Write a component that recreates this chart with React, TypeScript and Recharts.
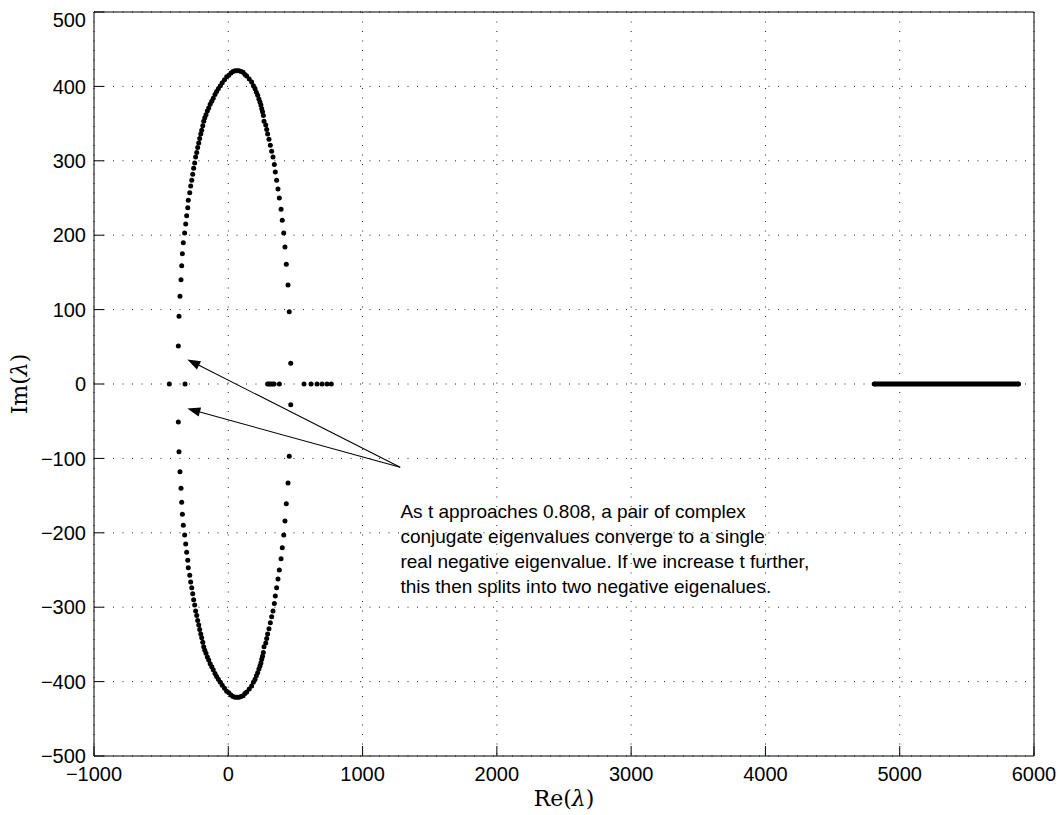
import { ScatterChart, Scatter, XAxis, YAxis, CartesianGrid, ReferenceLine, ReferenceDot, Label } from 'recharts';

const X_TICKS = [-1000, 0, 1000, 2000, 3000, 4000, 5000, 6000];
const Y_TICKS = [-500, -400, -300, -200, -100, 0, 100, 200, 300, 400, 500];

// upper half of the eigenvalue loop, left branch -> top -> right branch
const upperRe = [
  -372, -367, -360, -352, -347, -342, -335, -325, -317, -310, -302, -298, -287, -280,
  -272, -265, -258, -250, -243, -235, -228, -220, -213, -205, -198, -190, -183,
  -175, -166, -156, -146, -135, -123, -112, -99, -87, -74, -59, -45, -28, -12, 4, 20,
  35, 50, 65, 80, 95, 110, 124, 137, 156, 174, 187, 199, 209, 219, 228, 236, 243, 249,
  255, 261,
  266, 279, 286, 293, 303, 313, 323, 333, 343, 350, 360, 370, 380, 393, 402, 413, 422,
  432, 445, 454, 465,
];
const upperIm = [
  51, 91, 118, 140, 159, 175, 190, 203, 215, 226, 237, 247, 257, 266,
  274, 282, 290, 297, 305, 311, 318, 324, 330, 336, 341, 347, 353,
  358, 362, 367, 371, 376, 380, 384, 389, 393, 397, 401, 405, 409, 413, 415, 418,
  420, 421, 421, 421, 420, 419, 416, 414, 410, 406, 401, 397, 392, 388, 383, 379, 375, 370,
  366, 361,
  353, 348, 342, 336, 329, 321, 313, 305, 295, 285, 274, 262, 250, 235, 220, 203, 184,
  161, 133, 97, 28,
];
// conjugate half
const lowerIm = [
  -51, -91, -118, -140, -159, -175, -190, -203, -215, -226, -237, -247, -257, -266,
  -274, -282, -290, -297, -305, -311, -318, -324, -330, -336, -341, -347, -353,
  -358, -362, -367, -371, -376, -380, -384, -389, -393, -397, -401, -405, -409, -413, -415, -418,
  -420, -421, -421, -421, -420, -419, -416, -414, -410, -406, -401, -397, -392, -388, -383, -379, -375, -370,
  -366, -361,
  -353, -348, -342, -336, -329, -321, -313, -305, -295, -285, -274, -262, -250, -235, -220, -203, -184,
  -161, -133, -97, -28,
];
// real eigenvalues near the origin
const realRe = [-439, -322, 293, 305, 317, 329, 341, 380, 564, 616, 661, 698, 735, 767];
// the dense run of real eigenvalues on the right
const bandRe = [4810, 5885];

const arrowTail = { re: 1280, im: -112 };
const arrowTips = [
  { re: -305, im: 33 },
  { re: -305, im: -33 },
];
const noteAt = { re: 1282, im: -180 };
const noteLines = [
  'As t approaches 0.808, a pair of complex',
  'conjugate eigenvalues converge to a single',
  'real negative eigenvalue. If we increase t further,',
  'this then splits into two negative eigenalues.',
];

const upperData = upperRe.map((re, i) => ({ re, im: upperIm[i] }));
const lowerData = upperRe.map((re, i) => ({ re, im: lowerIm[i] }));
const realData = realRe.map((re) => ({ re, im: 0 }));
const bandData = bandRe.map((re) => ({ re, im: 0 }));

const Dot = (p: any) => <circle cx={p.cx} cy={p.cy} r={2.5} fill="#000" />;

const Arrow = (p: any) => {
  const { x1, y1, x2, y2 } = p;
  const dx = x2 - x1;
  const dy = y2 - y1;
  const len = Math.hypot(dx, dy) || 1;
  const ux = dx / len;
  const uy = dy / len;
  const L = 13;
  const W = 4.6;
  const bx = x2 - ux * L;
  const by = y2 - uy * L;
  const pts = `${x2},${y2} ${bx - uy * W},${by + ux * W} ${bx + uy * W},${by - ux * W}`;
  return (
    <g>
      <line x1={x1} y1={y1} x2={bx} y2={by} stroke="#000" strokeWidth={1.1} />
      <polygon points={pts} fill="#000" />
    </g>
  );
};

const Note = (p: any) => (
  <text x={p.cx} y={p.cy} fontFamily="Liberation Sans, Arial, sans-serif" fontSize={19} fill="#000">
    {noteLines.map((t, i) => (
      <tspan key={i} x={p.cx} dy={i === 0 ? 0 : 25}>
        {t}
      </tspan>
    ))}
  </text>
);

const fmt = (v: number) => String(v).replace('-', '\u2212');
const tickStyle = { fill: '#000', fontSize: 20, fontFamily: 'Liberation Sans, Arial, sans-serif' };
const serif = 'DejaVu Serif, Liberation Serif, serif';

export default function App() {
  return (
    <ScatterChart width={1050} height={807} margin={{ top: 3, right: 23, left: 0, bottom: 7 }}>
      <CartesianGrid stroke="#222" strokeDasharray="1 8.5" />
      <XAxis
        dataKey="re"
        type="number"
        domain={[-1000, 6000]}
        ticks={X_TICKS}
        height={52}
        stroke="#000"
        tickSize={-10}
        tickMargin={21}
        tick={tickStyle}
        tickFormatter={fmt}
      >
        <Label
          content={(p: any) => (
            <text
              x={p.viewBox.x + p.viewBox.width / 2}
              y={p.viewBox.y + 50}
              textAnchor="middle"
              fontFamily={serif}
              fontSize={22}
              fill="#000"
            >
              Re(<tspan fontStyle="italic">λ</tspan>)
            </text>
          )}
        />
      </XAxis>
      <XAxis
        xAxisId="top"
        orientation="top"
        type="number"
        domain={[-1000, 6000]}
        ticks={X_TICKS}
        height={1}
        stroke="#000"
        tickSize={-10}
        tick={false}
      />
      <YAxis
        dataKey="im"
        type="number"
        domain={[-500, 500]}
        ticks={Y_TICKS}
        width={86}
        stroke="#000"
        tickSize={-10}
        tickMargin={18}
        tick={tickStyle}
        tickFormatter={fmt}
      >
        <Label
          content={(p: any) => {
            const cx = 11;
            const cy = p.viewBox.y + p.viewBox.height / 2;
            return (
              <text
                x={cx}
                y={cy}
                transform={`rotate(-90 ${cx} ${cy})`}
                textAnchor="middle"
                dominantBaseline="central"
                fontFamily={serif}
                fontSize={22}
                fill="#000"
              >
                Im(<tspan fontStyle="italic">λ</tspan>)
              </text>
            );
          }}
        />
      </YAxis>
      <YAxis
        yAxisId="right"
        orientation="right"
        type="number"
        domain={[-500, 500]}
        ticks={Y_TICKS}
        width={1}
        stroke="#000"
        tickSize={-10}
        tick={false}
      />
      <Scatter data={upperData} shape={Dot} isAnimationActive={false} />
      <Scatter data={lowerData} shape={Dot} isAnimationActive={false} />
      <Scatter data={realData} shape={Dot} isAnimationActive={false} />
      <Scatter
        data={bandData}
        shape={Dot}
        line={{ stroke: '#000', strokeWidth: 5 }}
        isAnimationActive={false}
      />
      {arrowTips.map((tip, i) => (
        <ReferenceLine
          key={i}
          segment={[
            { x: arrowTail.re, y: arrowTail.im },
            { x: tip.re, y: tip.im },
          ]}
          shape={Arrow}
        />
      ))}
      <ReferenceDot x={noteAt.re} y={noteAt.im} r={0} shape={Note} />
    </ScatterChart>
  );
}
